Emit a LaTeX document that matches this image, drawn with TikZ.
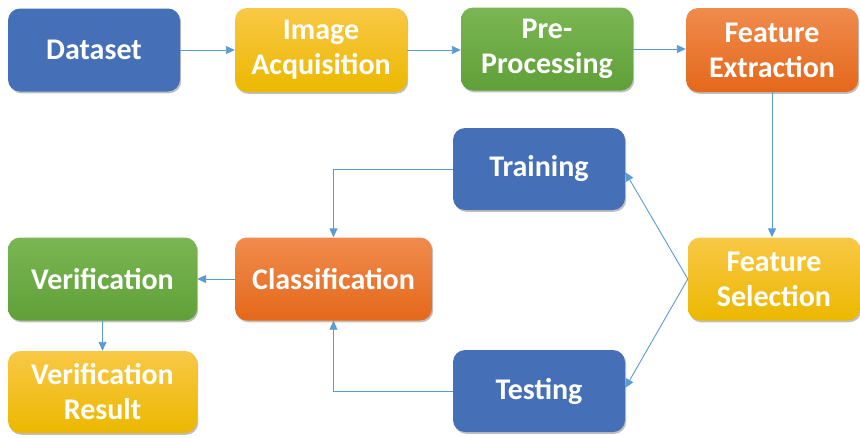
\documentclass[tikz,border=0pt]{standalone}
\usepackage{fontspec}
\setmainfont{Carlito}
\usetikzlibrary{arrows.meta,shadows}
\definecolor{cblue}{HTML}{4570B8}
\definecolor{yTop}{HTML}{F9C846}
\definecolor{yBot}{HTML}{EBB800}
\definecolor{gTop}{HTML}{7AB653}
\definecolor{gBot}{HTML}{60A038}
\definecolor{oTop}{HTML}{F08B4D}
\definecolor{oBot}{HTML}{E4681B}
\definecolor{conn}{HTML}{5B9BD5}
\tikzset{
  basebox/.style={rounded corners=12pt, text=white, align=center,
    font=\bfseries\fontsize{30}{35}\selectfont, inner sep=0pt,
    minimum width=172pt, minimum height=83pt,
    drop shadow={shadow xshift=1.2pt, shadow yshift=-1.8pt, opacity=0.25, fill=black}},
  bluebox/.style={basebox, fill=cblue},
  yellowbox/.style={basebox, top color=yTop, bottom color=yBot},
  greenbox/.style={basebox, top color=gTop, bottom color=gBot},
  orangebox/.style={basebox, top color=oTop, bottom color=oBot},
  link/.style={draw=conn, line width=0.9pt, -{Triangle[length=9pt,width=8pt]}}
}
\begin{document}
\begin{tikzpicture}[x=1pt,y=-1pt]
\useasboundingbox (0,0) rectangle (860,437);
\node[bluebox] (ds) at (94,50) {Dataset};
\node[yellowbox, minimum height=84pt] (ia) at (321,50) {Image\\Acquisition};
\node[greenbox] (pp) at (547,49) {Pre-\\Processing};
\node[orangebox, minimum height=84pt] (fe) at (772,50) {Feature\\Extraction};
\node[bluebox, minimum height=82pt] (tr) at (539,169) {Training};
\node[yellowbox] (fs) at (774,279) {Feature\\Selection};
\node[orangebox, minimum width=197pt] (cl) at (333.5,279) {Classification};
\node[greenbox, minimum width=189pt] (vf) at (102.5,279) {Verification};
\node[bluebox, minimum height=82pt] (te) at (539,391) {Testing};
\node[yellowbox, minimum width=189pt, minimum height=82pt] (vr) at (102.5,392) {Verification\\Result};
\draw[link] (ds.east) -- (ds.east -| ia.west);
\draw[link] (ia.east) -- (ia.east -| pp.west);
\draw[link] (pp.east) -- (pp.east -| fe.west);
\draw[link] (fe.south) -- (fe.south |- fs.north);
\draw[link] (fs.west) -- ([yshift=-3pt]tr.east);
\draw[link] (fs.west) -- ([yshift=3pt]te.east);
\draw[link] (tr.west) -| (cl.north);
\draw[link] (te.west) -| (cl.south);
\draw[link] (cl.west) -- (vf.east);
\draw[link] (vf.south) -- (vr.north);
\end{tikzpicture}
\end{document}
